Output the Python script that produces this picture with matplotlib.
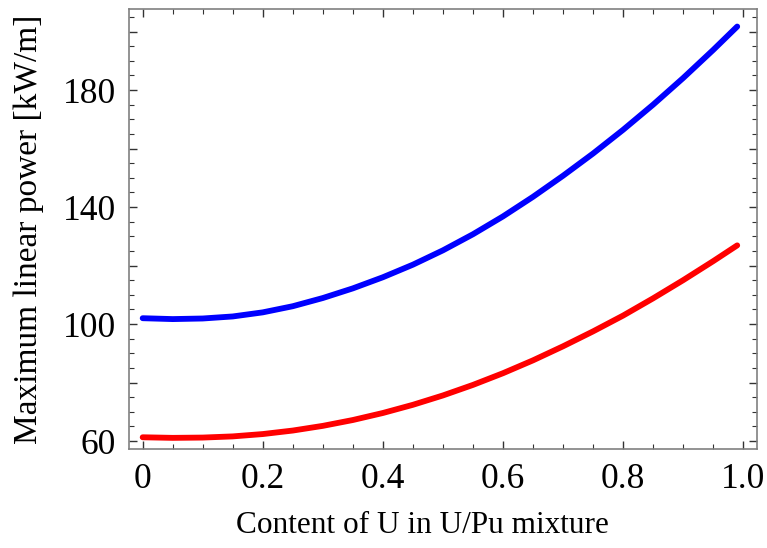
import matplotlib
matplotlib.use("Agg")
import matplotlib.pyplot as plt
from matplotlib.ticker import MultipleLocator, FuncFormatter

# Content of U (fraction) and maximum linear power [kW/m]
u_content = [0.0, 0.05, 0.1, 0.15, 0.2, 0.25, 0.3, 0.35, 0.4, 0.45, 0.5,
             0.55, 0.6, 0.65, 0.7, 0.75, 0.8, 0.85, 0.9, 0.95, 0.99]
power_blue = [102.0, 101.7, 101.9, 102.6, 104.0, 106.1, 108.9, 112.2, 116.0, 120.3, 125.2,
              130.7, 136.8, 143.5, 150.7, 158.3, 166.4, 175.0, 184.1, 193.7, 201.7]
power_red = [61.3, 61.1, 61.2, 61.6, 62.4, 63.6, 65.2, 67.2, 69.6, 72.4, 75.6,
             79.2, 83.2, 87.6, 92.4, 97.5, 102.9, 108.8, 115.0, 121.5, 126.9]

y_labelled = [60, 100, 140, 180]

plt.rcParams['font.family'] = ['Liberation Serif', 'DejaVu Serif']

fig = plt.figure(figsize=(7.67, 5.48), dpi=100)
ax = fig.add_axes([0.168, 0.1807, 0.819, 0.8029])

ax.plot(u_content, power_blue, color='#0000ff', linewidth=4.2, solid_capstyle='round', solid_joinstyle='round')
ax.plot(u_content, power_red, color='#ff0000', linewidth=4.2, solid_capstyle='round', solid_joinstyle='round')

ax.set_xlim(-0.023, 1.023)
ax.set_ylim(57.3, 207.7)

ax.xaxis.set_major_locator(MultipleLocator(0.2))
ax.xaxis.set_minor_locator(MultipleLocator(0.05))
ax.xaxis.set_major_formatter(FuncFormatter(lambda v, p: '0' if abs(v) < 1e-9 else '%.1f' % v))
ax.yaxis.set_major_locator(MultipleLocator(20))
ax.yaxis.set_minor_locator(MultipleLocator(5))
ax.yaxis.set_major_formatter(FuncFormatter(lambda v, p: '%d' % round(v) if round(v) in y_labelled else ''))

for s in ax.spines.values():
    s.set_color('#808080')
    s.set_linewidth(1.2)

ax.tick_params(which='both', direction='in', top=True, right=True, colors='#333333', labelcolor='black')
ax.tick_params(which='major', length=6, width=1.0, labelsize=25.5)
ax.tick_params(axis='x', which='major', pad=10)
ax.tick_params(axis='y', which='major', pad=9)
ax.tick_params(which='minor', length=3.5, width=0.8)

ax.set_xlabel('Content of U in U/Pu mixture', fontsize=22.5)
ax.set_ylabel('Maximum linear power [kW/m]', fontsize=24, labelpad=14)
# the reference label sits a little left of the axes centre
ax.xaxis.set_label_coords(0.467, -0.142)

fig.savefig('out.png', dpi=100)
